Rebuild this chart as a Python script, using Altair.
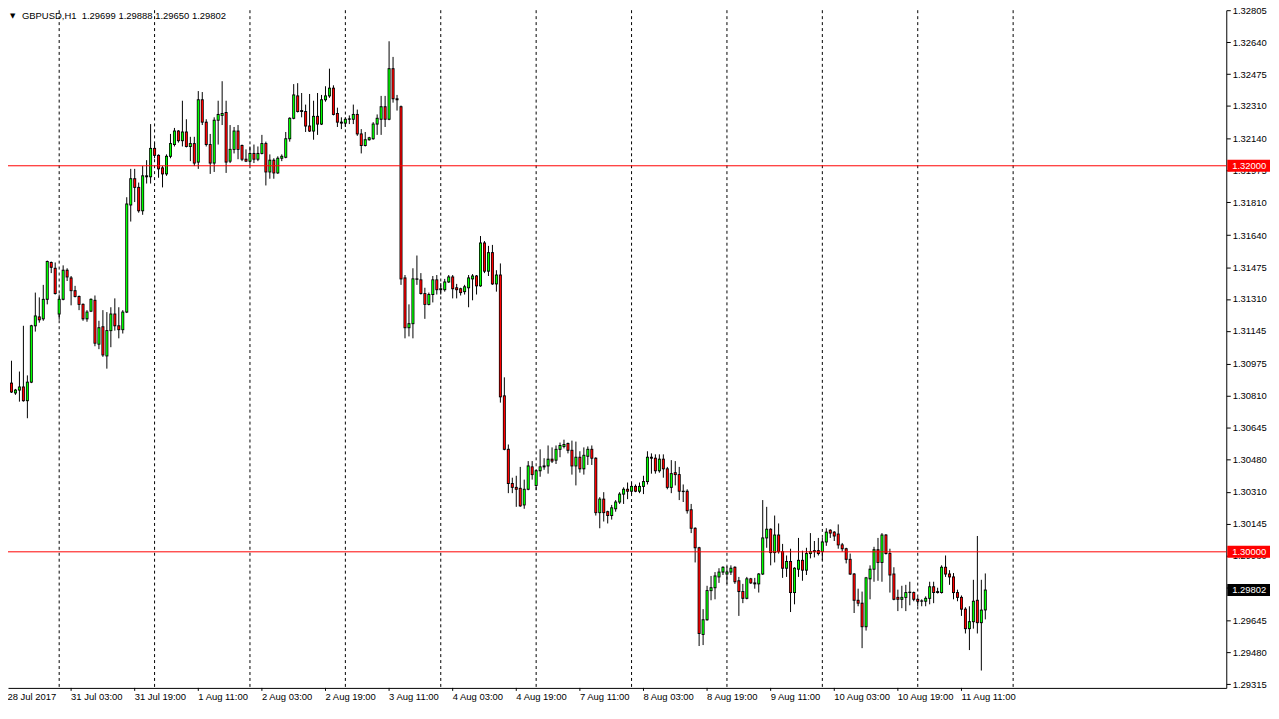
import altair as alt
import pandas as pd

# ---------------- data (GBPUSD H1) ----------------
opens = [
    1.30874, 1.30823, 1.30838, 1.30854, 1.30783, 1.30879, 1.31171, 1.31217, 1.31207, 1.31308,
    1.31499, 1.31469, 1.31232, 1.31308, 1.31459, 1.31419, 1.31353, 1.31323, 1.31282, 1.31207,
    1.31247, 1.31303, 1.31076, 1.31166, 1.31015, 1.31146, 1.31232, 1.31171, 1.31151, 1.31242,
    1.31797, 1.31933, 1.31888, 1.31767, 1.31943, 1.31943, 1.32090, 1.32054, 1.31989, 1.31958,
    1.32049, 1.32110, 1.32180, 1.32130, 1.32175, 1.32100, 1.32115, 1.32019, 1.32342, 1.32226,
    1.32110, 1.32014, 1.32236, 1.32261, 1.32276, 1.32024, 1.32085, 1.32180, 1.32105, 1.32034,
    1.32024, 1.32064, 1.32034, 1.32064, 1.32115, 1.31968, 1.32029, 1.31963, 1.32039, 1.32044,
    1.32140, 1.32246, 1.32362, 1.32286, 1.32281, 1.32206, 1.32180, 1.32256, 1.32216, 1.32342,
    1.32362, 1.32402, 1.32271, 1.32226, 1.32221, 1.32241, 1.32241, 1.32266, 1.32165, 1.32105,
    1.32135, 1.32140, 1.32216, 1.32241, 1.32306, 1.32241, 1.32503, 1.32347, 1.32306, 1.31419,
    1.31161, 1.31182, 1.31414, 1.31409, 1.31338, 1.31282, 1.31333, 1.31409, 1.31358, 1.31358,
    1.31398, 1.31424, 1.31368, 1.31363, 1.31348, 1.31368, 1.31414, 1.31429, 1.31378, 1.31600,
    1.31454, 1.31550, 1.31388, 1.31434, 1.30808, 1.30531, 1.30354, 1.30334, 1.30329, 1.30243,
    1.30324, 1.30440, 1.30344, 1.30420, 1.30440, 1.30445, 1.30480, 1.30475, 1.30531, 1.30546,
    1.30561, 1.30526, 1.30445, 1.30490, 1.30430, 1.30495, 1.30531, 1.30485, 1.30203, 1.30273,
    1.30208, 1.30188, 1.30223, 1.30258, 1.30299, 1.30324, 1.30314, 1.30339, 1.30314, 1.30339,
    1.30364, 1.30490, 1.30485, 1.30420, 1.30480, 1.30430, 1.30334, 1.30410, 1.30400, 1.30314,
    1.30314, 1.30218, 1.30122, 1.30021, 1.29572, 1.29648, 1.29799, 1.29814, 1.29870, 1.29895,
    1.29885, 1.29895, 1.29920, 1.29850, 1.29794, 1.29759, 1.29860, 1.29839, 1.29834, 1.29885,
    1.30072, 1.30117, 1.29996, 1.30087, 1.30001, 1.29915, 1.29950, 1.29789, 1.29910, 1.29956,
    1.29905, 1.29991, 1.30001, 1.30006, 1.30001, 1.30051, 1.30112, 1.30102, 1.30092, 1.30036,
    1.30016, 1.29961, 1.29885, 1.29749, 1.29734, 1.29612, 1.29860, 1.29910, 1.30011, 1.29945,
    1.30087, 1.29991, 1.29885, 1.29764, 1.29754, 1.29764, 1.29789, 1.29789, 1.29754, 1.29744,
    1.29744, 1.29759, 1.29819, 1.29789, 1.29789, 1.29920, 1.29885, 1.29870, 1.29789, 1.29764,
    1.29703, 1.29602, 1.29638, 1.29749, 1.29633, 1.29699,
]
highs = [
    1.30990, 1.30844, 1.30934, 1.31171, 1.30914, 1.31176, 1.31343, 1.31318, 1.31383, 1.31509,
    1.31504, 1.31499, 1.31333, 1.31484, 1.31469, 1.31429, 1.31378, 1.31328, 1.31287, 1.31252,
    1.31313, 1.31328, 1.31197, 1.31252, 1.31242, 1.31267, 1.31313, 1.31267, 1.31252, 1.31837,
    1.31984, 1.31984, 1.31913, 1.31999, 1.32029, 1.32216, 1.32120, 1.32059, 1.31999, 1.32059,
    1.32165, 1.32196, 1.32185, 1.32337, 1.32241, 1.32150, 1.32150, 1.32387, 1.32382, 1.32241,
    1.32165, 1.32251, 1.32337, 1.32438, 1.32337, 1.32211, 1.32201, 1.32211, 1.32110, 1.32085,
    1.32100, 1.32110, 1.32100, 1.32160, 1.32125, 1.32059, 1.32039, 1.32049, 1.32059, 1.32175,
    1.32251, 1.32423, 1.32428, 1.32377, 1.32317, 1.32372, 1.32337, 1.32377, 1.32367, 1.32412,
    1.32503, 1.32417, 1.32301, 1.32251, 1.32251, 1.32261, 1.32317, 1.32291, 1.32190, 1.32175,
    1.32150, 1.32226, 1.32266, 1.32362, 1.32362, 1.32645, 1.32564, 1.32367, 1.32312, 1.31434,
    1.31282, 1.31469, 1.31535, 1.31444, 1.31368, 1.31343, 1.31429, 1.31434, 1.31393, 1.31414,
    1.31434, 1.31434, 1.31388, 1.31368, 1.31383, 1.31434, 1.31439, 1.31434, 1.31636, 1.31610,
    1.31585, 1.31590, 1.31459, 1.31494, 1.30904, 1.30556, 1.30384, 1.30394, 1.30440, 1.30374,
    1.30470, 1.30470, 1.30425, 1.30531, 1.30485, 1.30551, 1.30541, 1.30551, 1.30566, 1.30581,
    1.30566, 1.30576, 1.30571, 1.30521, 1.30541, 1.30546, 1.30551, 1.30490, 1.30283, 1.30309,
    1.30213, 1.30243, 1.30268, 1.30309, 1.30334, 1.30359, 1.30359, 1.30349, 1.30359, 1.30394,
    1.30521, 1.30510, 1.30505, 1.30505, 1.30505, 1.30440, 1.30475, 1.30470, 1.30440, 1.30349,
    1.30324, 1.30248, 1.30127, 1.30026, 1.29703, 1.29824, 1.29875, 1.29895, 1.29915, 1.29925,
    1.29925, 1.29930, 1.29925, 1.29870, 1.29834, 1.29870, 1.29865, 1.29865, 1.29890, 1.30268,
    1.30233, 1.30122, 1.30188, 1.30147, 1.30041, 1.29981, 1.30016, 1.29920, 1.30072, 1.30006,
    1.30021, 1.30097, 1.30056, 1.30072, 1.30072, 1.30122, 1.30117, 1.30107, 1.30142, 1.30046,
    1.30021, 1.29991, 1.29890, 1.29809, 1.29794, 1.29870, 1.29930, 1.30026, 1.30072, 1.30097,
    1.30092, 1.30016, 1.29920, 1.29804, 1.29824, 1.29829, 1.29845, 1.29794, 1.29764, 1.29754,
    1.29769, 1.29845, 1.29845, 1.29814, 1.29930, 1.29981, 1.29905, 1.29890, 1.29804, 1.29774,
    1.29713, 1.29718, 1.29855, 1.30082, 1.29855, 1.29888,
]
lows = [
    1.30823, 1.30813, 1.30778, 1.30778, 1.30692, 1.30874, 1.31141, 1.31187, 1.31197, 1.31282,
    1.31444, 1.31333, 1.31202, 1.31303, 1.31403, 1.31277, 1.31318, 1.31252, 1.31197, 1.31192,
    1.31242, 1.31065, 1.31050, 1.31010, 1.30949, 1.31060, 1.31146, 1.31106, 1.31131, 1.31237,
    1.31711, 1.31812, 1.31757, 1.31746, 1.31908, 1.31908, 1.32039, 1.31938, 1.31888, 1.31948,
    1.32039, 1.32100, 1.32120, 1.32100, 1.32095, 1.32024, 1.31999, 1.31984, 1.32211, 1.32100,
    1.31958, 1.31968, 1.32110, 1.32211, 1.31963, 1.32014, 1.32064, 1.32034, 1.32024, 1.32019,
    1.31999, 1.32014, 1.32024, 1.32059, 1.31898, 1.31933, 1.31933, 1.31958, 1.32024, 1.32039,
    1.32125, 1.32241, 1.32276, 1.32251, 1.32175, 1.32175, 1.32135, 1.32160, 1.32211, 1.32332,
    1.32352, 1.32261, 1.32201, 1.32190, 1.32201, 1.32216, 1.32216, 1.32155, 1.32064, 1.32100,
    1.32130, 1.32135, 1.32160, 1.32160, 1.32201, 1.32236, 1.32327, 1.32286, 1.31383, 1.31106,
    1.31116, 1.31106, 1.31383, 1.31333, 1.31207, 1.31277, 1.31292, 1.31333, 1.31333, 1.31348,
    1.31393, 1.31313, 1.31313, 1.31328, 1.31333, 1.31267, 1.31303, 1.31333, 1.31373, 1.31444,
    1.31429, 1.31383, 1.31348, 1.30773, 1.30526, 1.30304, 1.30304, 1.30233, 1.30233, 1.30223,
    1.30319, 1.30374, 1.30319, 1.30389, 1.30425, 1.30405, 1.30460, 1.30455, 1.30490, 1.30536,
    1.30510, 1.30400, 1.30344, 1.30410, 1.30400, 1.30450, 1.30450, 1.30188, 1.30122, 1.30157,
    1.30147, 1.30167, 1.30208, 1.30248, 1.30248, 1.30273, 1.30299, 1.30309, 1.30304, 1.30299,
    1.30349, 1.30405, 1.30405, 1.30410, 1.30384, 1.30324, 1.30304, 1.30344, 1.30268, 1.30258,
    1.30198, 1.30097, 1.29945, 1.29512, 1.29517, 1.29643, 1.29749, 1.29754, 1.29839, 1.29880,
    1.29834, 1.29880, 1.29834, 1.29668, 1.29734, 1.29754, 1.29834, 1.29809, 1.29789, 1.29880,
    1.30021, 1.29930, 1.29945, 1.29991, 1.29865, 1.29870, 1.29688, 1.29728, 1.29870, 1.29850,
    1.29880, 1.29966, 1.29971, 1.29981, 1.29956, 1.30031, 1.30072, 1.30056, 1.30016, 1.30001,
    1.29940, 1.29880, 1.29683, 1.29718, 1.29501, 1.29592, 1.29754, 1.29845, 1.29850, 1.29845,
    1.29986, 1.29789, 1.29749, 1.29693, 1.29708, 1.29693, 1.29723, 1.29744, 1.29718, 1.29718,
    1.29718, 1.29728, 1.29734, 1.29784, 1.29784, 1.29870, 1.29829, 1.29754, 1.29744, 1.29668,
    1.29577, 1.29491, 1.29602, 1.29577, 1.29385, 1.29650,
]
closes = [
    1.30828, 1.30838, 1.30854, 1.30783, 1.30879, 1.31171, 1.31222, 1.31202, 1.31308, 1.31504,
    1.31474, 1.31338, 1.31308, 1.31459, 1.31424, 1.31353, 1.31323, 1.31282, 1.31207, 1.31242,
    1.31308, 1.31081, 1.31161, 1.31020, 1.31146, 1.31232, 1.31171, 1.31151, 1.31242, 1.31802,
    1.31933, 1.31888, 1.31767, 1.31948, 1.31948, 1.32090, 1.32054, 1.31984, 1.31958, 1.32049,
    1.32115, 1.32180, 1.32130, 1.32175, 1.32100, 1.32115, 1.32014, 1.32342, 1.32226, 1.32110,
    1.32014, 1.32236, 1.32266, 1.32271, 1.32019, 1.32085, 1.32180, 1.32085, 1.32034, 1.32024,
    1.32064, 1.32034, 1.32064, 1.32115, 1.31968, 1.32029, 1.31963, 1.32039, 1.32049, 1.32140,
    1.32246, 1.32367, 1.32281, 1.32281, 1.32206, 1.32180, 1.32256, 1.32216, 1.32342, 1.32362,
    1.32402, 1.32266, 1.32226, 1.32221, 1.32241, 1.32243, 1.32266, 1.32165, 1.32105, 1.32135,
    1.32145, 1.32216, 1.32246, 1.32306, 1.32241, 1.32503, 1.32347, 1.32342, 1.31414, 1.31161,
    1.31182, 1.31414, 1.31412, 1.31338, 1.31282, 1.31333, 1.31409, 1.31358, 1.31363, 1.31398,
    1.31424, 1.31363, 1.31358, 1.31343, 1.31373, 1.31419, 1.31429, 1.31378, 1.31600, 1.31454,
    1.31550, 1.31388, 1.31434, 1.30803, 1.30531, 1.30354, 1.30334, 1.30324, 1.30238, 1.30324,
    1.30445, 1.30400, 1.30420, 1.30440, 1.30445, 1.30480, 1.30470, 1.30531, 1.30551, 1.30556,
    1.30526, 1.30445, 1.30490, 1.30430, 1.30500, 1.30531, 1.30485, 1.30203, 1.30273, 1.30203,
    1.30188, 1.30228, 1.30258, 1.30299, 1.30324, 1.30314, 1.30339, 1.30314, 1.30339, 1.30364,
    1.30490, 1.30485, 1.30420, 1.30480, 1.30430, 1.30334, 1.30405, 1.30400, 1.30314, 1.30312,
    1.30213, 1.30122, 1.30021, 1.29577, 1.29648, 1.29799, 1.29814, 1.29875, 1.29895, 1.29920,
    1.29895, 1.29915, 1.29845, 1.29794, 1.29759, 1.29860, 1.29839, 1.29834, 1.29885, 1.30072,
    1.30117, 1.29996, 1.30087, 1.30001, 1.29915, 1.29950, 1.29789, 1.29915, 1.29956, 1.29905,
    1.29991, 1.30001, 1.30006, 1.29991, 1.30051, 1.30102, 1.30097, 1.30082, 1.30036, 1.30016,
    1.29961, 1.29885, 1.29749, 1.29734, 1.29612, 1.29865, 1.29910, 1.30011, 1.29945, 1.30087,
    1.29991, 1.29880, 1.29754, 1.29754, 1.29764, 1.29789, 1.29791, 1.29754, 1.29744, 1.29746,
    1.29759, 1.29819, 1.29789, 1.29794, 1.29920, 1.29885, 1.29870, 1.29789, 1.29764, 1.29703,
    1.29602, 1.29638, 1.29744, 1.29633, 1.29698, 1.29802,
]

# bar index 0 = 28 Jul 2017 12:00; one bar per hour (weekend skipped)
date_label_idx = [-1, 15, 31, 47, 63, 79, 95, 111, 127, 143, 159, 175, 191, 207, 223, 239]
date_labels = ["28 Jul 2017", "31 Jul 03:00", "31 Jul 19:00", "1 Aug 11:00", "2 Aug 03:00",
               "2 Aug 19:00", "3 Aug 11:00", "4 Aug 03:00", "4 Aug 19:00", "7 Aug 11:00",
               "8 Aug 03:00", "8 Aug 19:00", "9 Aug 11:00", "10 Aug 03:00", "10 Aug 19:00",
               "11 Aug 11:00"]
separator_idx = [12, 36, 60, 84, 108, 132, 156, 180, 204, 228, 252]

price_ticks = [1.32805, 1.32640, 1.32475, 1.32310, 1.32140, 1.31975, 1.31810, 1.31640,
               1.31475, 1.31310, 1.31145, 1.30975, 1.30810, 1.30645, 1.30480, 1.30310,
               1.30145, 1.29980, 1.29815, 1.29645, 1.29480, 1.29315]
level_lines = [1.32000, 1.30000]
box_prices = [1.32000, 1.30000, 1.29802]
box_labels = ["1.32000", "1.30000", "1.29802"]
box_colors = ["#FF0000", "#FF0000", "#000000"]
title_text = "GBPUSD,H1\u00a0\u00a01.29699 1.29888 1.29650 1.29802"

# ---------------- styling ----------------
W, H = 1226, 682
F = "Tahoma, 'Liberation Sans', Arial, sans-serif"
FS = 9.5
GREEN = "#00FF00"
RED = "#FF0000"

df = pd.DataFrame({"i": list(range(len(opens))), "open": opens, "high": highs,
                   "low": lows, "close": closes})
df["dir"] = ["up" if c >= o else "down" for o, c in zip(opens, closes)]

xscale = alt.Scale(domain=[-0.875, -0.875 + W / 4], nice=False, zero=False)
yscale = alt.Scale(domain=[1.29295, 1.32806], nice=False, zero=False)
xaxis = alt.Axis(orient="bottom", labels=False, ticks=False, grid=False, title=None,
                 domainColor="black", domainWidth=1)
yaxis = alt.Axis(orient="right", values=price_ticks, format=".5f", grid=False, title=None,
                 labelFont=F, labelFontSize=FS, labelColor="black", labelPadding=2,
                 labelOverlap=False, labelFlush=False, tickColor="black", tickSize=4,
                 tickWidth=1, domainColor="black", domainWidth=1)

sep = alt.Chart(pd.DataFrame({"i": separator_idx})).mark_rule(
    color="black", strokeWidth=1, strokeDash=[3, 3]).encode(
    x=alt.X("i:Q", scale=xscale, axis=xaxis), y=alt.value(0), y2=alt.value(H))

wicks = alt.Chart(df).mark_rule(color="black", strokeWidth=1).encode(
    x=alt.X("i:Q", scale=xscale, axis=xaxis),
    y=alt.Y("low:Q", scale=yscale, axis=yaxis), y2="high:Q")

# black body (3 px) then a coloured core on top of it
bodies_bg = alt.Chart(df).transform_calculate(
    xl="datum.i - 0.375", xr="datum.i + 0.375",
    top="max(datum.open, datum.close) + 0.000025",
    bot="min(datum.open, datum.close) - 0.000025").mark_rect(color="black").encode(
    x=alt.X("xl:Q", scale=xscale, axis=xaxis), x2="xr:Q",
    y=alt.Y("top:Q", scale=yscale, axis=yaxis), y2="bot:Q")

bodies = alt.Chart(df).transform_calculate(
    xl="datum.i - 0.1875", xr="datum.i + 0.1875",
    top="max(datum.open, datum.close) - 0.000025",
    bot="min(datum.open, datum.close) + 0.000025").transform_filter(
    "datum.top > datum.bot").mark_rect().encode(
    x=alt.X("xl:Q", scale=xscale, axis=xaxis), x2="xr:Q",
    y=alt.Y("top:Q", scale=yscale, axis=yaxis), y2="bot:Q",
    color=alt.Color("dir:N", scale=alt.Scale(domain=["up", "down"], range=[GREEN, RED]),
                    legend=None))

levels = alt.Chart(pd.DataFrame({"price": level_lines})).mark_rule(
    color="#FF0000", strokeWidth=1).encode(
    y=alt.Y("price:Q", scale=yscale, axis=yaxis), x=alt.value(0), x2=alt.value(W))

xl_df = pd.DataFrame({"i": date_label_idx, "label": date_labels})
xticks = alt.Chart(xl_df).mark_rule(color="black", strokeWidth=1).encode(
    x=alt.X("i:Q", scale=xscale, axis=xaxis), y=alt.value(H), y2=alt.value(H + 3))
xlabels = alt.Chart(xl_df).mark_text(
    align="left", baseline="middle", font=F, fontSize=FS, color="black", dx=0).encode(
    x=alt.X("i:Q", scale=xscale, axis=xaxis), y=alt.value(H + 9), text="label:N")

box_df = pd.DataFrame({"price": box_prices, "label": box_labels, "bg": box_colors})
boxes = alt.Chart(box_df).transform_calculate(
    top="datum.price + 0.00031", bot="datum.price - 0.00031").mark_rect().encode(
    x=alt.value(W + 1), x2=alt.value(W + 44),
    y=alt.Y("top:Q", scale=yscale, axis=yaxis), y2="bot:Q",
    color=alt.Color("bg:N", scale=None))
boxtext = alt.Chart(box_df).mark_text(
    align="left", baseline="middle", font=F, fontSize=FS, color="white").encode(
    x=alt.value(W + 6), y=alt.Y("price:Q", scale=yscale, axis=yaxis), text="label:N")

title = alt.Chart(pd.DataFrame({"t": [title_text]})).mark_text(
    align="left", baseline="middle", font=F, fontSize=FS, color="black").encode(
    x=alt.value(14), y=alt.value(6), text="t:N")
tri = alt.Chart(pd.DataFrame({"t": ["\u25bc"]})).mark_text(
    align="left", baseline="middle", fontSize=7, color="black", font="DejaVu Sans").encode(
    x=alt.value(2), y=alt.value(6), text="t:N")

chart = alt.layer(sep, wicks, bodies_bg, bodies, levels, xticks, xlabels, boxes, boxtext,
                  title, tri).properties(
    width=W, height=H,
    autosize=alt.AutoSizeParams(type="none"),
    padding={"left": 0, "top": 0, "right": 45, "bottom": 16},
    background="white",
).configure_view(stroke=None)

chart.save("out.html", embed_options={"renderer": "svg", "actions": False})
